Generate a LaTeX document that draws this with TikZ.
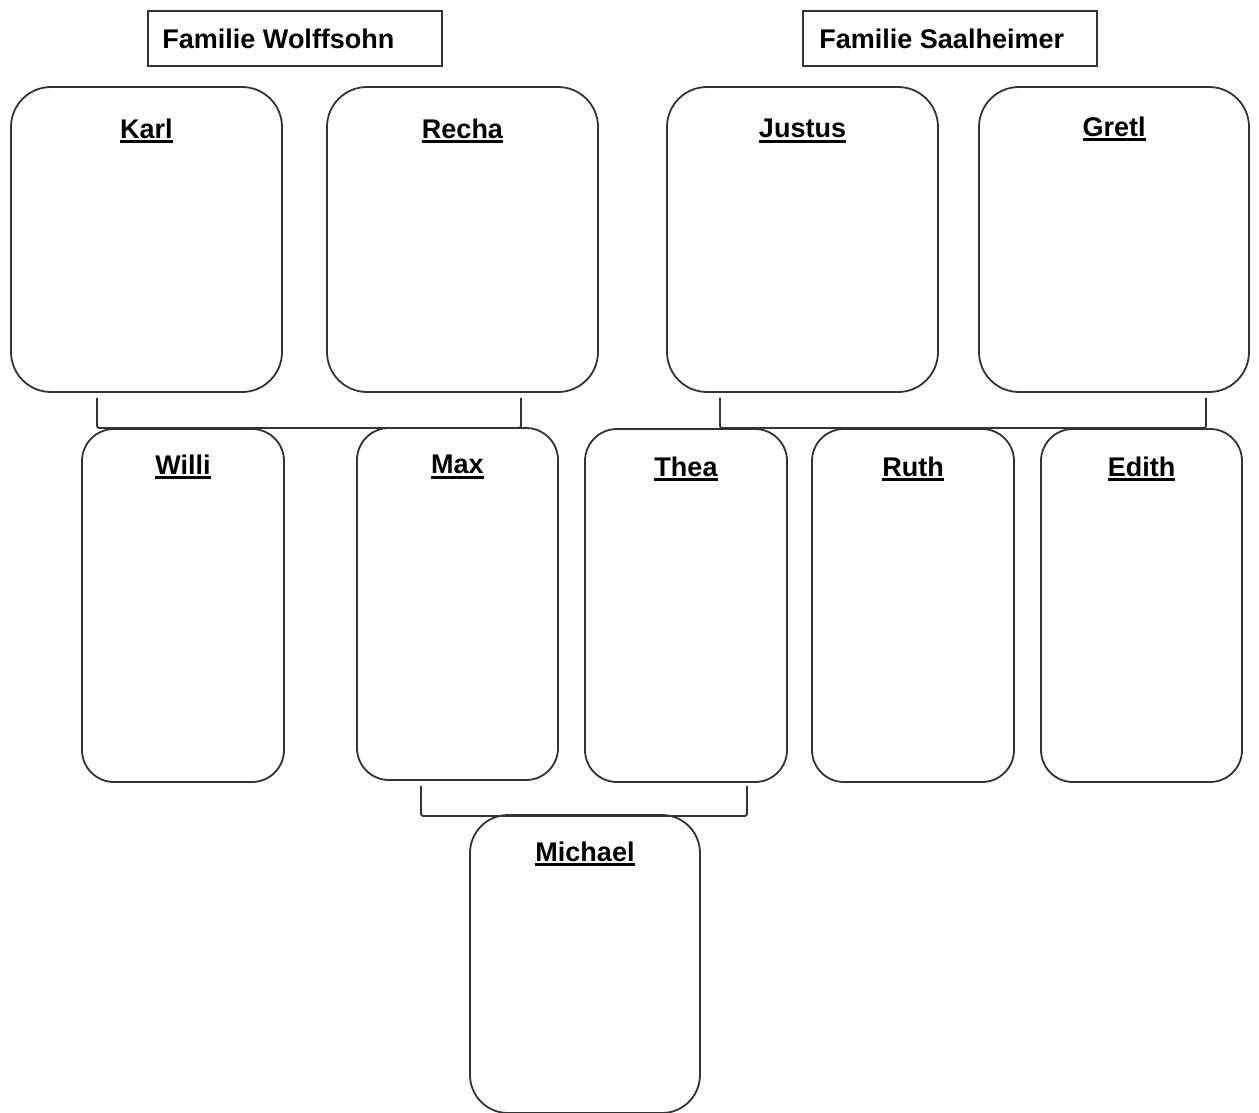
\documentclass[tikz,border=0pt]{standalone}
\usepackage{fontspec}
\setmainfont{Liberation Sans}
\newcommand\ulname[1]{\setbox0=\hbox{#1}\leavevmode\rlap{\rule[-5pt]{\wd0}{3pt}}\box0}
\begin{document}
\begin{tikzpicture}[x=1pt,y=-1pt,
  pbox/.style={draw=black!80,line width=1.8pt,rounded corners=#1,inner sep=0pt},
  pbox/.default=40pt,
  hbox/.style={draw=black!80,line width=1.5pt,minimum width=294pt,minimum height=55pt,inner sep=0pt},
  htext/.style={font=\fontsize{27}{32}\selectfont\bfseries,anchor=west,inner sep=0pt},
  nametext/.style={font=\fontsize{27}{32}\selectfont\bfseries,inner sep=0pt},
  conn/.style={draw=black!80,line width=1.8pt,rounded corners=2pt}]
\useasboundingbox[fill=white] (0,0) rectangle (1259,1113);
% family headers
\node[hbox] (hw) at (295,38.5) {};
\node[htext] (hwt) at ([xshift=15pt]hw.west) {Familie Wolffsohn};
\node[hbox] (hs) at (950,38.5) {};
\node[htext] (hst) at ([xshift=17pt]hs.west) {Familie Saalheimer};
% parents
\node[pbox,minimum width=271pt,minimum height=305pt] (karl) at (146.5,239.5) {};
\node[pbox,minimum width=271pt,minimum height=305pt] (recha) at (462.5,239.5) {};
\node[pbox,minimum width=271pt,minimum height=305pt] (justus) at (802.5,239.5) {};
\node[pbox,minimum width=270pt,minimum height=305pt] (gretl) at (1114,239.5) {};
\node[nametext] (karlT) at ([yshift=-45pt]karl.north) {\ulname{Karl}};
\node[nametext] (rechaT) at ([yshift=-45pt]recha.north) {\ulname{Recha}};
\node[nametext] (justusT) at ([yshift=-45pt]justus.north) {\ulname{Justus}};
\node[nametext] (gretlT) at ([yshift=-43pt]gretl.north) {\ulname{Gretl}};
% children
\node[pbox=32pt,minimum width=202pt,minimum height=353pt] (willi) at (183,605.5) {};
\node[pbox=32pt,minimum width=201pt,minimum height=352pt] (max) at (457.5,604) {};
\node[pbox=32pt,minimum width=202pt,minimum height=353pt] (thea) at (686,605.5) {};
\node[pbox=32pt,minimum width=202pt,minimum height=353pt] (ruth) at (913,605.5) {};
\node[pbox=32pt,minimum width=201pt,minimum height=353pt] (edith) at (1141.5,605.5) {};
\node[nametext] (williT) at ([yshift=-39pt]willi.north) {\ulname{Willi}};
\node[nametext] (maxT) at ([yshift=-40pt]max.north) {\ulname{Max}};
\node[nametext] (theaT) at ([yshift=-41pt]thea.north) {\ulname{Thea}};
\node[nametext] (ruthT) at ([yshift=-41pt]ruth.north) {\ulname{Ruth}};
\node[nametext] (edithT) at ([yshift=-41pt]edith.north) {\ulname{Edith}};
% grandchild
\node[pbox=38pt,minimum width=230pt,minimum height=298pt] (michael) at (585,964) {};
\node[nametext] (michaelT) at ([yshift=-40pt]michael.north) {\ulname{Michael}};
% connectors
\draw[conn] ([xshift=-49.5pt,yshift=-5pt]karl.south) -- ([xshift=-49.5pt,yshift=-35pt]karl.south)
  -- ([xshift=58.5pt,yshift=-35pt]recha.south) -- ([xshift=58.5pt,yshift=-5pt]recha.south);
\draw[conn] ([xshift=-82.5pt,yshift=-5pt]justus.south) -- ([xshift=-82.5pt,yshift=-35pt]justus.south)
  -- ([xshift=92pt,yshift=-35pt]gretl.south) -- ([xshift=92pt,yshift=-5pt]gretl.south);
\draw[conn] ([xshift=-36.5pt,yshift=-5pt]max.south) -- ([xshift=-36.5pt,yshift=-35pt]max.south)
  -- ([xshift=61pt,yshift=-33pt]thea.south) -- ([xshift=61pt,yshift=-3pt]thea.south);
\end{tikzpicture}
\end{document}
